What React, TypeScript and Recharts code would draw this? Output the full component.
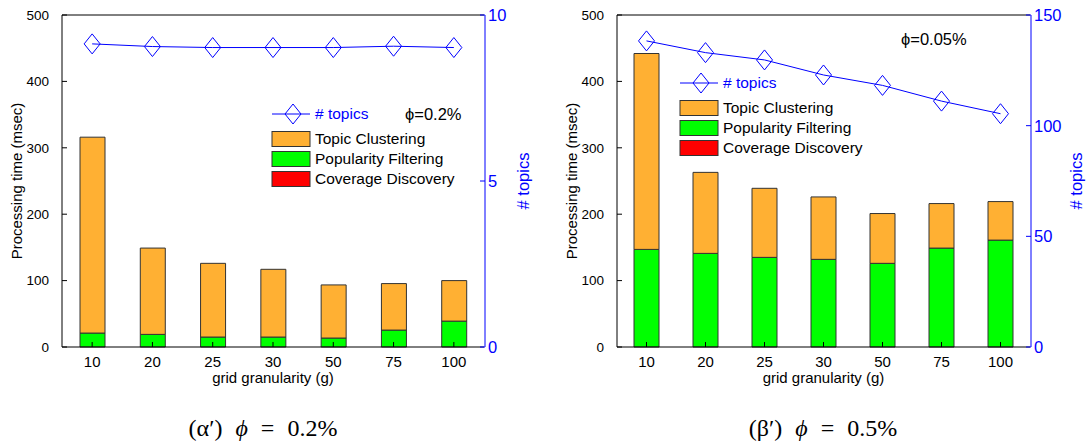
import React from 'react';
import { ComposedChart, Bar, Line, XAxis, YAxis, Legend } from 'recharts';

// grid granularity (g) on the x axis
const granularity = ['10', '20', '25', '30', '50', '75', '100'];

// panel (α′), φ = 0.2%
const popularityA = [21, 19, 15, 15, 13.5, 25.5, 39];
const clusteringA = [295, 130, 111, 102, 80, 70, 61];
const coverageA = [0, 0, 0, 0, 0, 0, 0];
const topicsA = [9.13, 9.05, 9.02, 9.02, 9.02, 9.06, 9.02];

// panel (β′), φ = 0.5%
const popularityB = [147, 141, 135, 132, 126, 149, 161];
const clusteringB = [295, 122, 104, 94, 75, 67, 58];
const coverageB = [0, 0, 0, 0, 0, 0, 0];
const topicsB = [138.3, 133, 129.7, 122.9, 118.2, 111.1, 105.4];

const timeTicks = [0, 100, 200, 300, 400, 500];
const topicTicksA = [0, 5, 10];
const topicTicksB = [0, 50, 100, 150];

const BLUE = '#0000ff';
const ORANGE = '#ffb033';
const GREEN = '#00ff00';
const RED = '#ff0000';
const EDGE = '#333333';
const SANS = '"Liberation Sans", Arial, Helvetica, sans-serif';
const SERIF = '"Liberation Serif", "Times New Roman", serif';

const CHART_H = 400;

const buildRows = (pop: number[], clu: number[], cov: number[], topics: number[]) =>
    granularity.map((g, i) => ({ g, pop: pop[i], clu: clu[i], cov: cov[i], topics: topics[i] }));

const diamondPath = (cx: number, cy: number) =>
    `M${cx},${cy - 10}L${cx + 8},${cy}L${cx},${cy + 10}L${cx - 8},${cy}Z`;

const renderDiamond = (p: any) => (
    <path key={`d-${p.index}`} d={diamondPath(p.cx, p.cy)} fill="none" stroke={BLUE} strokeWidth={1} />
);

const swatches = [
    { name: 'Topic Clustering', color: ORANGE },
    { name: 'Popularity Filtering', color: GREEN },
    { name: 'Coverage Discovery', color: RED },
];

interface KeyProps {
    width: number;
    x: number;
    y: number;
    phi: string;
    phiX: number;
    phiY: number;
}

// legend block plus the φ annotation, drawn over the plot
const PanelKey = ({ width, x, y, phi, phiX, phiY }: KeyProps) => (
    <svg width={width} height={CHART_H} style={{ display: 'block', fontFamily: SANS, fontSize: 15.5 }}>
        <line x1={x} x2={x + 38} y1={y} y2={y} stroke={BLUE} strokeWidth={1} />
        <path d={diamondPath(x + 21, y)} fill="none" stroke={BLUE} strokeWidth={1} />
        <text x={x + 43} y={y} dy="0.35em" fill={BLUE}># topics</text>
        {swatches.map((s, i) => (
            <g key={s.name}>
                <rect x={x} y={y + 17.5 + 20 * i} width={38} height={15} fill={s.color} stroke={EDGE} strokeWidth={1} />
                <text x={x + 43} y={y + 25 + 20 * i} dy="0.35em" fill="#000">{s.name}</text>
            </g>
        ))}
        <text x={phiX} y={phiY} dy="0.35em" fill="#000" fontSize={16.5}>{phi}</text>
    </svg>
);

interface PanelProps {
    rows: any[];
    width: number;
    rightWidth: number;
    topicMax: number;
    topicTicks: number[];
    topicLabelOffset: number;
    keyProps: Omit<KeyProps, 'width'>;
}

const Panel = ({ rows, width, rightWidth, topicMax, topicTicks, topicLabelOffset, keyProps }: PanelProps) => (
    <ComposedChart
        width={width}
        height={CHART_H}
        data={rows}
        margin={{ top: 14, right: 0, bottom: 13, left: 0 }}
        style={{ fontFamily: SANS }}
    >
        <XAxis
            dataKey="g"
            type="category"
            height={40}
            stroke="#000"
            tickSize={-5}
            tickMargin={14}
            tick={{ fill: '#000', fontSize: 15 }}
            label={{ value: 'grid granularity (g)', position: 'bottom', offset: -15, fill: '#000', fontSize: 15 }}
        />
        <XAxis xAxisId="top" dataKey="g" type="category" orientation="top" height={1} stroke="#000" tickSize={-5} tick={false} />
        <YAxis
            yAxisId="time"
            type="number"
            domain={[0, 500]}
            ticks={timeTicks}
            width={62}
            stroke="#000"
            tickSize={-5}
            tickMargin={18}
            tick={{ fill: '#000', fontSize: 13.5 }}
            label={{ value: 'Processing time (msec)', angle: -90, position: 'insideLeft', offset: 17, fill: '#000', fontSize: 15, style: { textAnchor: 'middle' } }}
        />
        <YAxis
            yAxisId="timeMirror"
            type="number"
            orientation="right"
            domain={[0, 500]}
            ticks={timeTicks}
            width={1}
            stroke="#000"
            axisLine={false}
            tickSize={-5}
            tick={false}
        />
        <YAxis
            yAxisId="topics"
            type="number"
            orientation="right"
            domain={[0, topicMax]}
            ticks={topicTicks}
            width={rightWidth}
            stroke={BLUE}
            tickSize={-5}
            tickMargin={8}
            tick={{ fill: BLUE, fontSize: 16.5 }}
            label={{ value: '# topics', angle: -90, position: 'insideRight', offset: topicLabelOffset, fill: BLUE, fontSize: 16.5, style: { textAnchor: 'middle' } }}
        />
        <Legend
            layout="horizontal"
            verticalAlign="middle"
            align="center"
            wrapperStyle={{ left: 0, top: 0, width, height: CHART_H, pointerEvents: 'none' }}
            content={() => <PanelKey width={width} {...keyProps} />}
        />
        <Bar yAxisId="time" dataKey="pop" stackId="t" barSize={25} fill={GREEN} stroke={EDGE} strokeWidth={1} isAnimationActive={false} />
        <Bar yAxisId="time" dataKey="clu" stackId="t" barSize={25} fill={ORANGE} stroke={EDGE} strokeWidth={1} isAnimationActive={false} />
        <Bar yAxisId="time" dataKey="cov" stackId="t" barSize={25} fill={RED} stroke={EDGE} strokeWidth={1} isAnimationActive={false} />
        <Line
            yAxisId="topics"
            dataKey="topics"
            type="linear"
            stroke={BLUE}
            strokeWidth={1}
            dot={renderDiamond}
            activeDot={false}
            isAnimationActive={false}
        />
    </ComposedChart>
);

const captionStyle: React.CSSProperties = {
    position: 'absolute',
    top: 414,
    width: 260,
    height: 28,
    lineHeight: '28px',
    textAlign: 'center',
    fontFamily: SERIF,
    fontSize: 24,
    wordSpacing: 7,
    color: '#000',
};

export default function App() {
    return (
        <div style={{ position: 'absolute', left: 0, top: 0, width: 1086, height: 445, background: '#fff', overflow: 'hidden' }}>
            <div style={{ position: 'absolute', left: 0, top: 0 }}>
                <Panel
                    rows={buildRows(popularityA, clusteringA, coverageA, topicsA)}
                    width={546}
                    rightWidth={61}
                    topicMax={10}
                    topicTicks={topicTicksA}
                    topicLabelOffset={23}
                    keyProps={{ x: 272, y: 114, phi: 'ϕ=0.2%', phiX: 405, phiY: 114 }}
                />
            </div>
            <div style={{ position: 'absolute', left: 555, top: 0 }}>
                <Panel
                    rows={buildRows(popularityB, clusteringB, coverageB, topicsB)}
                    width={531}
                    rightWidth={55}
                    topicMax={150}
                    topicTicks={topicTicksB}
                    topicLabelOffset={10}
                    keyProps={{ x: 125, y: 83, phi: 'ϕ=0.05%', phiX: 346, phiY: 39 }}
                />
            </div>
            <div style={{ ...captionStyle, left: 133 }}>
                (α′) <i>ϕ</i> = 0.2%
            </div>
            <div style={{ ...captionStyle, left: 693 }}>
                (β′) <i>ϕ</i> = 0.5%
            </div>
        </div>
    );
}
